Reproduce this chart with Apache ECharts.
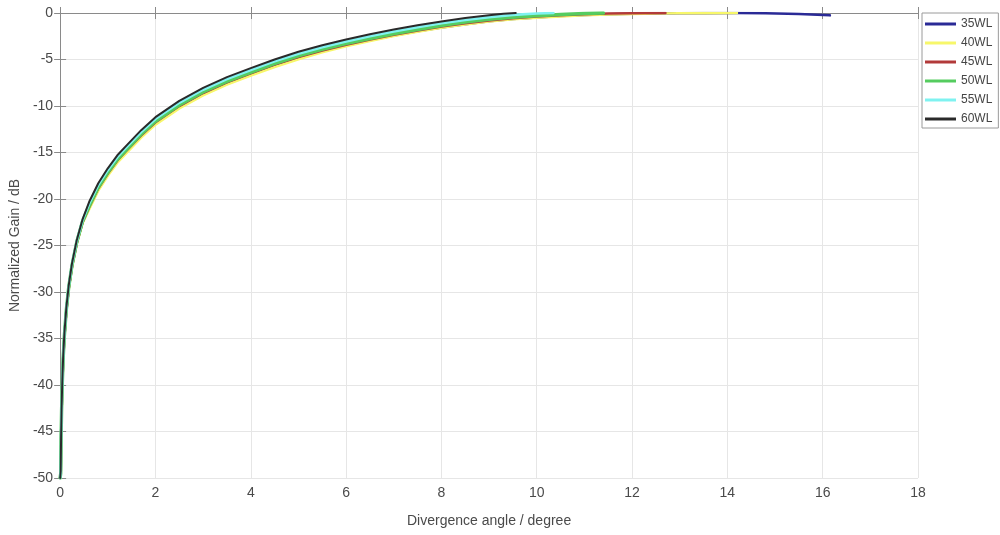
<!DOCTYPE html>
<html>
<head>
<meta charset="utf-8">
<script src="https://cdn.jsdelivr.net/npm/echarts@6/dist/echarts.min.js"></script>
<style>
  html, body { margin: 0; padding: 0; background: #ffffff; }
  #chart { width: 1000px; height: 535px; }
</style>
</head>
<body>
<div id="chart"></div>
<script>
// Angle samples shared by the rising part of every curve (degrees)
var baseAngles = [0, 0.012, 0.02, 0.03, 0.045, 0.065, 0.09, 0.13, 0.18, 0.25, 0.35, 0.47, 0.61, 0.8, 1.0, 1.2, 1.4, 1.7, 2.0, 2.5, 3.0, 3.5, 4.0, 4.5, 5.0, 5.5, 6.0, 6.5, 7.0, 7.5, 8.0, 8.5, 9.0];

var seriesNames = ['35WL', '40WL', '45WL', '50WL', '55WL', '60WL'];
var seriesColors = ['#2a2a96', '#f7f76a', '#b23a3a', '#55cc5f', '#7ff2f0', '#2a2a2a'];
var seriesWidths = [2.6, 2.6, 2.6, 3.4, 2.6, 2.0];

// Normalized gain (dB) for each array length
var angles35 = baseAngles.concat([9.5, 10.0, 10.5, 11.0, 11.5, 12.0, 12.5, 13.0, 13.5, 14.2, 14.8, 15.5, 16.15]);
var gain35 = [-50, -49.6, -45.9, -42.9, -39.9, -37.1, -34.7, -32.0, -29.6, -27.2,
  -24.7, -22.5, -20.95, -18.95, -17.35, -15.95, -14.85, -13.25, -11.85, -10.1,
  -8.7, -7.55, -6.58, -5.65, -4.82, -4.12, -3.5, -2.94, -2.43, -1.97,
  -1.56, -1.2, -0.89,
  -0.65, -0.47, -0.33, -0.22, -0.14, -0.08, -0.04, -0.02, -0.01, 0, -0.03, -0.1, -0.25];

var angles40 = baseAngles.concat([9.5, 10.0, 10.5, 11.0, 11.5, 12.0, 12.5, 13.0, 13.5, 14.2]);
var gain40 = [-50, -49.7, -46.0, -43.0, -40.0, -37.2, -34.8, -32.1, -29.7, -27.3,
  -24.8, -22.6, -21.1, -19.1, -17.5, -16.1, -15.0, -13.4, -12.0, -10.25,
  -8.85, -7.7, -6.73, -5.8, -4.97, -4.22, -3.57, -3.0, -2.48, -2.0,
  -1.58, -1.22, -0.92,
  -0.68, -0.5, -0.36, -0.25, -0.16, -0.1, -0.05, -0.02, -0.01, 0];

var angles45 = baseAngles.concat([9.5, 10.0, 10.5, 11.0, 11.5, 12.0, 12.7]);
var gain45 = [-50, -49.6, -45.9, -42.9, -39.9, -37.1, -34.7, -32.0, -29.6, -27.2,
  -24.7, -22.5, -20.85, -18.85, -17.25, -15.85, -14.75, -13.15, -11.75, -10.0,
  -8.6, -7.45, -6.48, -5.55, -4.72, -4.02, -3.4, -2.84, -2.33, -1.87,
  -1.46, -1.1, -0.79,
  -0.55, -0.37, -0.23, -0.13, -0.06, -0.02, 0];

var angles50 = baseAngles.concat([9.5, 10.0, 10.5, 11.0, 11.4]);
var gain50 = [-50, -49.5, -45.8, -42.8, -39.8, -37.0, -34.6, -31.9, -29.5, -27.1,
  -24.6, -22.4, -20.75, -18.75, -17.15, -15.75, -14.65, -13.05, -11.65, -9.9,
  -8.5, -7.35, -6.38, -5.45, -4.62, -3.92, -3.3, -2.74, -2.23, -1.77,
  -1.35, -0.98, -0.67,
  -0.45, -0.3, -0.16, -0.06, 0];

var angles55 = baseAngles.concat([9.5, 10.0, 10.35]);
var gain55 = [-50, -49.4, -45.7, -42.7, -39.7, -36.9, -34.5, -31.8, -29.4, -27.0,
  -24.5, -22.3, -20.5, -18.5, -16.9, -15.5, -14.4, -12.8, -11.4, -9.65,
  -8.25, -7.1, -6.13, -5.2, -4.37, -3.67, -3.05, -2.49, -1.98, -1.52,
  -1.11, -0.75, -0.44,
  -0.2, -0.05, 0];

var angles60 = baseAngles.concat([9.3, 9.56]);
var gain60 = [-50, -49.3, -45.6, -42.6, -39.6, -36.8, -34.4, -31.7, -29.3, -26.9,
  -24.4, -22.2, -20.3, -18.3, -16.7, -15.3, -14.2, -12.6, -11.2, -9.45,
  -8.05, -6.9, -5.93, -5.0, -4.17, -3.47, -2.85, -2.29, -1.78, -1.32,
  -0.91, -0.55, -0.24,
  -0.08, 0];

var xTicks = [0, 2, 4, 6, 8, 10, 12, 14, 16, 18];
var yTicks = [0, -5, -10, -15, -20, -25, -30, -35, -40, -45, -50];

var allAngles = [angles35, angles40, angles45, angles50, angles55, angles60];
var allGains = [gain35, gain40, gain45, gain50, gain55, gain60];

function pairs(xs, ys) {
  var out = [];
  for (var i = 0; i < xs.length; i++) out.push([xs[i], ys[i]]);
  return out;
}

var fontFamily = '"Liberation Sans", Arial, sans-serif';
var textColor = '#4a4a4a';
var axisColor = '#8a8a8a';
var gridColor = '#e6e6e6';

var chart = echarts.init(document.getElementById('chart'), null, { renderer: 'canvas' });

var series = seriesNames.map(function (name, i) {
  return {
    name: name,
    type: 'line',
    xAxisIndex: 0,
    yAxisIndex: 0,
    data: pairs(allAngles[i], allGains[i]),
    showSymbol: false,
    smooth: false,
    lineStyle: { color: seriesColors[i], width: seriesWidths[i], join: 'round', cap: 'round' },
    itemStyle: { color: seriesColors[i] },
    emphasis: { disabled: true },
    animation: false,
    z: 2 + i
  };
});

var option = {
  backgroundColor: '#ffffff',
  animation: false,
  grid: { left: 59, top: 13, width: 859, height: 465, containLabel: false },
  legend: {
    orient: 'vertical',
    left: 922,
    top: 13,
    padding: [4, 6, 2, 3],
    itemGap: 5,
    itemWidth: 31,
    itemHeight: 3,
    icon: 'rect',
    backgroundColor: '#ffffff',
    borderColor: '#9a9a9a',
    borderWidth: 1,
    borderRadius: 0,
    textStyle: { fontFamily: fontFamily, fontSize: 12, color: '#444', lineHeight: 14 },
    data: seriesNames
  },
  xAxis: [{
    type: 'value',
    min: 0, max: 18, interval: 2,
    name: 'Divergence angle / degree',
    nameLocation: 'middle',
    nameGap: 36,
    nameTextStyle: { fontFamily: fontFamily, fontSize: 14, color: textColor },
    axisLine: { show: true, lineStyle: { color: axisColor, width: 1 } },
    axisTick: { show: true, inside: true, length: 6, lineStyle: { color: axisColor } },
    axisLabel: {
      fontFamily: fontFamily, fontSize: 14, color: textColor, margin: 8,
      formatter: function (v) { return xTicks.indexOf(v) >= 0 ? String(v) : ''; }
    },
    splitLine: { show: true, lineStyle: { color: gridColor, width: 1 } }
  }, {
    type: 'value',
    position: 'top',
    min: 0, max: 18, interval: 2,
    axisLine: { show: true, lineStyle: { color: axisColor, width: 1 } },
    axisTick: { show: true, inside: true, length: 6, lineStyle: { color: axisColor } },
    axisLabel: { show: false },
    splitLine: { show: false }
  }],
  yAxis: [{
    type: 'value',
    min: -50, max: 0, interval: 5,
    name: 'Normalized Gain / dB',
    nameLocation: 'middle',
    nameGap: 31,
    nameRotate: 90,
    nameTextStyle: { fontFamily: fontFamily, fontSize: 14, color: textColor },
    axisLine: { show: true, lineStyle: { color: axisColor, width: 1 } },
    axisTick: { show: true, inside: true, length: 6, lineStyle: { color: axisColor } },
    axisLabel: {
      fontFamily: fontFamily, fontSize: 14, color: textColor, margin: 7,
      formatter: function (v) { return yTicks.indexOf(v) >= 0 ? String(v) : ''; }
    },
    splitLine: { show: true, lineStyle: { color: gridColor, width: 1 } }
  }, {
    type: 'value',
    position: 'right',
    min: -50, max: 0, interval: 5,
    axisLine: { show: true, lineStyle: { color: axisColor, width: 1 } },
    axisTick: { show: true, inside: true, length: 6, lineStyle: { color: axisColor } },
    axisLabel: { show: false },
    splitLine: { show: false }
  }],
  series: series
};

chart.setOption(option);
</script>
</body>
</html>
